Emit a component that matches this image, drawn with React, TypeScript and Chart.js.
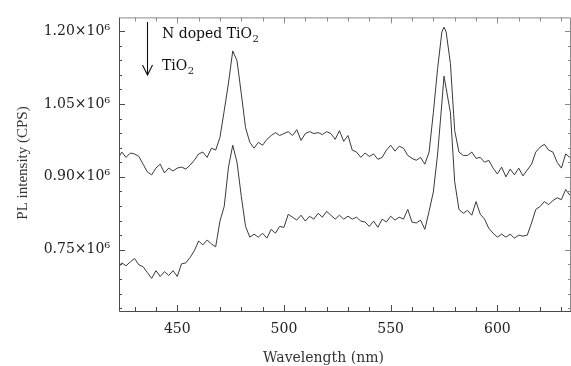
import React, { useEffect, useRef } from "react";
import { Chart, registerables } from "chart.js";

Chart.register(...registerables);

// Wavelength (nm)
const wavelengths = [
  422, 424, 426, 428, 430, 432, 434, 436, 438, 440, 442, 444, 446, 448, 450,
  452, 454, 456, 458, 460, 462, 464, 466, 468, 470, 472, 474, 476, 478, 480,
  482, 484, 486, 488, 490, 492, 494, 496, 498, 500, 502, 504, 506, 508, 510,
  512, 514, 516, 518, 520, 522, 524, 526, 528, 530, 532, 534, 536, 538, 540,
  542, 544, 546, 548, 550, 552, 554, 556, 558, 560, 562, 564, 566, 568, 570,
  572, 574, 575, 576, 578, 580, 582, 584, 586, 588, 590, 592, 594, 596, 598,
  600, 602, 604, 606, 608, 610, 612, 614, 616, 618, 620, 622, 624, 626, 628,
  630, 632, 634,
];

// PL intensity, in units of 10^6 CPS
const nDopedTiO2 = [
  0.936, 0.951, 0.940, 0.949, 0.947, 0.942, 0.926, 0.910, 0.904, 0.918, 0.926, 0.908, 0.918, 0.912, 0.918,
  0.920, 0.916, 0.924, 0.934, 0.947, 0.951, 0.940, 0.959, 0.955, 0.981, 1.036, 1.093, 1.159, 1.139, 1.071,
  1.001, 0.971, 0.959, 0.971, 0.965, 0.977, 0.985, 0.991, 0.985, 0.989, 0.993, 0.985, 0.997, 0.975, 0.989,
  0.993, 0.989, 0.991, 0.987, 0.993, 0.989, 0.977, 0.995, 0.973, 0.985, 0.955, 0.951, 0.940, 0.949, 0.942,
  0.947, 0.936, 0.940, 0.955, 0.965, 0.953, 0.963, 0.959, 0.944, 0.938, 0.934, 0.940, 0.926, 0.951, 1.032,
  1.123, 1.198, 1.208, 1.198, 1.133, 0.995, 0.951, 0.944, 0.944, 0.951, 0.938, 0.940, 0.930, 0.934, 0.918,
  0.906, 0.920, 0.900, 0.916, 0.904, 0.918, 0.902, 0.914, 0.926, 0.951, 0.961, 0.967, 0.955, 0.951, 0.930,
  0.918, 0.947, 0.940,
];

const tiO2 = [
  0.711, 0.723, 0.717, 0.725, 0.732, 0.719, 0.715, 0.703, 0.691, 0.707, 0.695, 0.705, 0.697, 0.707, 0.695,
  0.721, 0.723, 0.734, 0.748, 0.768, 0.760, 0.770, 0.762, 0.756, 0.809, 0.839, 0.920, 0.965, 0.930, 0.860,
  0.798, 0.776, 0.782, 0.776, 0.784, 0.774, 0.792, 0.784, 0.798, 0.796, 0.823, 0.817, 0.811, 0.821, 0.809,
  0.819, 0.813, 0.825, 0.817, 0.829, 0.821, 0.813, 0.821, 0.813, 0.819, 0.813, 0.817, 0.809, 0.807, 0.798,
  0.809, 0.796, 0.813, 0.807, 0.819, 0.811, 0.817, 0.813, 0.833, 0.807, 0.805, 0.811, 0.792, 0.829, 0.869,
  0.947, 1.052, 1.107, 1.082, 1.032, 0.890, 0.833, 0.825, 0.831, 0.821, 0.849, 0.823, 0.813, 0.794, 0.784,
  0.776, 0.782, 0.776, 0.782, 0.774, 0.780, 0.778, 0.780, 0.805, 0.833, 0.839, 0.849, 0.843, 0.851, 0.857,
  0.853, 0.874, 0.862,
];

const xTicks = [450, 500, 550, 600];
const xMinorTicks = [430, 440, 460, 470, 480, 490, 510, 520, 530, 540, 560, 570, 580, 590, 610, 620, 630];
const yTicks = [0.75, 0.9, 1.05, 1.2];
const yMinorTicks = [0.63, 0.66, 0.69, 0.72, 0.78, 0.81, 0.84, 0.87, 0.93, 0.96, 0.99, 1.02, 1.08, 1.11, 1.14, 1.17];

const X_MIN = 422.7;
const X_MAX = 634.5;
const Y_MIN = 0.624;
const Y_MAX = 1.228;

const xTitle = "Wavelength (nm)";
const yTitle = "PL intensity (CPS)";
const label1 = "N doped TiO";
const label2 = "TiO";
const sub = "2";

const decorPlugin = {
  id: "decor",
  afterDatasetsDraw(chart: any) {
    const { ctx, chartArea: a, scales } = chart;
    const x = scales.x;
    const y = scales.y;
    ctx.save();
    ctx.lineWidth = 1;

    // frame
    ctx.strokeStyle = "#4a4a4a";
    ctx.beginPath();
    ctx.moveTo(a.left + 0.5, a.top);
    ctx.lineTo(a.left + 0.5, a.bottom + 0.5);
    ctx.lineTo(a.right, a.bottom + 0.5);
    ctx.stroke();
    ctx.strokeStyle = "#8a8a8a";
    ctx.beginPath();
    ctx.moveTo(a.left, a.top + 0.5);
    ctx.lineTo(a.right - 0.5, a.top + 0.5);
    ctx.lineTo(a.right - 0.5, a.bottom);
    ctx.stroke();

    // x ticks (bottom + top)
    const drawX = (v: number, len: number) => {
      const px = Math.round(x.getPixelForValue(v)) + 0.5;
      ctx.strokeStyle = "#4a4a4a";
      ctx.beginPath();
      ctx.moveTo(px, a.bottom);
      ctx.lineTo(px, a.bottom - len);
      ctx.stroke();
      ctx.strokeStyle = "#8a8a8a";
      ctx.beginPath();
      ctx.moveTo(px, a.top);
      ctx.lineTo(px, a.top + len);
      ctx.stroke();
    };
    xTicks.forEach((v) => drawX(v, 6));
    xMinorTicks.forEach((v) => drawX(v, 4));

    const drawY = (v: number, len: number) => {
      const py = Math.round(y.getPixelForValue(v)) + 0.5;
      ctx.strokeStyle = "#4a4a4a";
      ctx.beginPath();
      ctx.moveTo(a.left, py);
      ctx.lineTo(a.left + len, py);
      ctx.stroke();
      ctx.strokeStyle = "#8a8a8a";
      ctx.beginPath();
      ctx.moveTo(a.right, py);
      ctx.lineTo(a.right - len, py);
      ctx.stroke();
    };
    yTicks.forEach((v) => drawY(v, 6));
    yMinorTicks.forEach((v) => drawY(v, 3));

    // axis titles
    ctx.fillStyle = "#333";
    ctx.font = '14px "DejaVu Serif"';
    ctx.textAlign = "center";
    ctx.textBaseline = "alphabetic";
    ctx.fillText(xTitle, 323.5, 362);

    ctx.save();
    ctx.translate(23, 163);
    ctx.rotate(-Math.PI / 2);
    ctx.font = '15px "Liberation Serif"';
    ctx.textBaseline = "middle";
    ctx.fillText(yTitle, 0, 0);
    ctx.restore();

    // annotation: labels with subscripts
    ctx.fillStyle = "#111";
    ctx.textAlign = "left";
    ctx.textBaseline = "alphabetic";
    ctx.font = '14px "DejaVu Serif"';
    ctx.fillText(label1, 162, 37.5);
    let w1 = ctx.measureText(label1).width;
    ctx.fillText(label2, 162, 69.5);
    let w2 = ctx.measureText(label2).width;
    ctx.font = '10px "DejaVu Serif"';
    ctx.fillText(sub, 162 + w1 + 0.5, 41.5);
    ctx.fillText(sub, 162 + w2 + 0.5, 73.5);

    // arrow
    ctx.strokeStyle = "#111";
    ctx.lineWidth = 1.1;
    ctx.beginPath();
    ctx.moveTo(147.5, 22);
    ctx.lineTo(147.5, 75);
    ctx.moveTo(142.5, 65);
    ctx.lineTo(147.5, 75);
    ctx.lineTo(152.5, 65);
    ctx.stroke();

    ctx.restore();
  },
};

export default function App() {
  const ref = useRef<HTMLCanvasElement | null>(null);

  useEffect(() => {
    if (!ref.current) return;
    const chart = new Chart(ref.current, {
      type: "line",
      data: {
        datasets: [
          {
            label: "N doped TiO2",
            data: wavelengths.map((w, i) => ({ x: w, y: nDopedTiO2[i] })),
            borderColor: "#3a3a3a",
            borderWidth: 1,
            pointRadius: 0,
            tension: 0,
          },
          {
            label: "TiO2",
            data: wavelengths.map((w, i) => ({ x: w, y: tiO2[i] })),
            borderColor: "#3a3a3a",
            borderWidth: 1,
            pointRadius: 0,
            tension: 0,
          },
        ],
      },
      options: {
        responsive: false,
        animation: false,
        devicePixelRatio: 1,
        layout: { padding: { top: 13, left: 0, right: 0, bottom: 0 } },
        plugins: {
          legend: { display: false },
          tooltip: { enabled: false },
        },
        scales: {
          x: {
            type: "linear",
            min: X_MIN,
            max: X_MAX,
            grid: { display: false, drawTicks: false },
            border: { display: false },
            afterBuildTicks: (s: any) => {
              s.ticks = xTicks.map((v) => ({ value: v }));
            },
            afterFit: (s: any) => {
              s.height = 55;
            },
            ticks: {
              padding: 10,
              color: "#222",
              font: { family: "DejaVu Serif", size: 14 },
              maxRotation: 0,
              callback: (v: any) => String(v),
            },
          },
          y: {
            type: "linear",
            min: Y_MIN,
            max: Y_MAX,
            grid: { display: false, drawTicks: false },
            border: { display: false },
            afterBuildTicks: (s: any) => {
              s.ticks = yTicks.map((v) => ({ value: v }));
            },
            afterFit: (s: any) => {
              s.width = 119;
            },
            ticks: {
              padding: 9,
              color: "#222",
              font: { family: "DejaVu Serif", size: 14 },
              callback: (v: any) => Number(v).toFixed(2) + "×10⁶",
            },
          },
        },
      },
      plugins: [decorPlugin],
    });
    return () => chart.destroy();
  }, []);

  return (
    <div style={{ position: "absolute", left: 0, top: 0, width: 571, height: 366, background: "#fff" }}>
      <canvas ref={ref} width={571} height={366} />
    </div>
  );
}
